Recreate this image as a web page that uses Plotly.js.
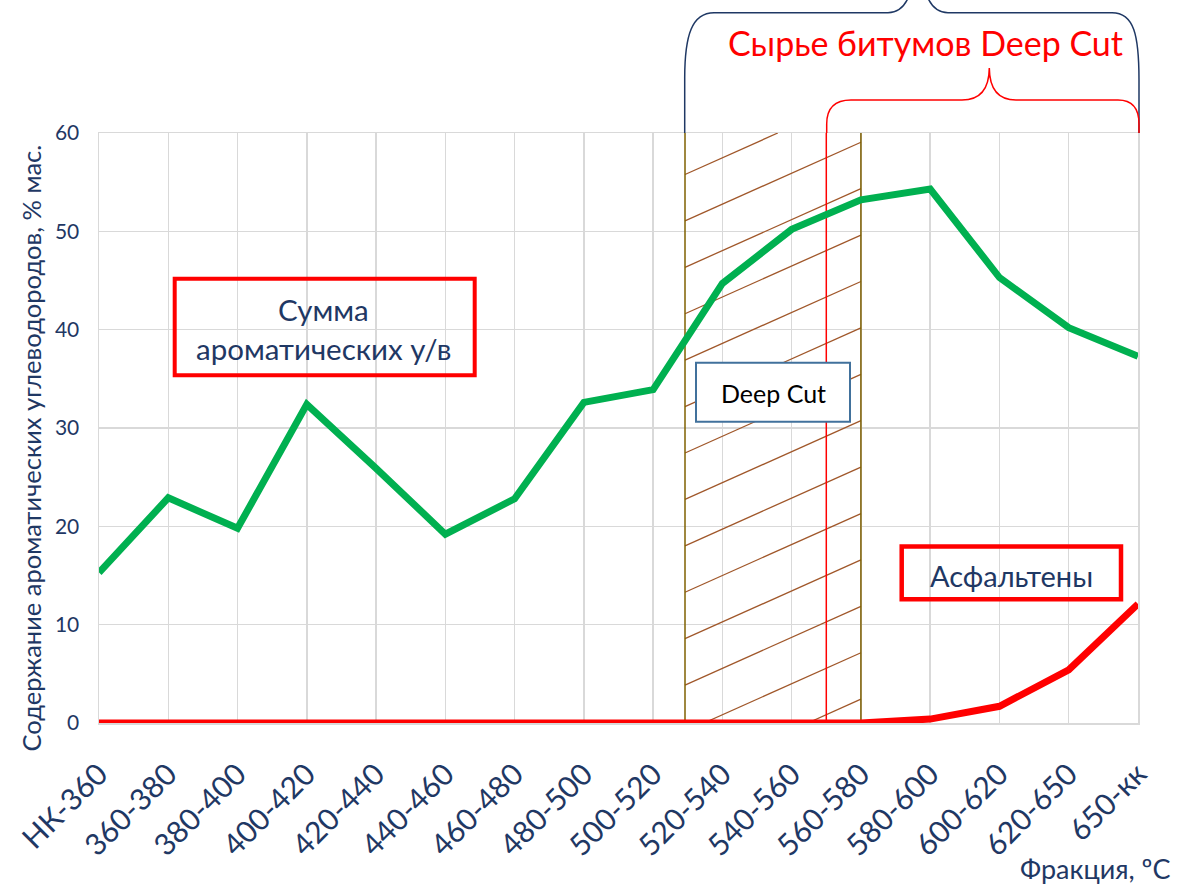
<!DOCTYPE html>
<html>
<head>
<meta charset="utf-8">
<script src="https://cdn.plot.ly/plotly-3.0.1.min.js"></script>
<style>html,body{margin:0;padding:0;background:#fff;}#chart{width:1178px;height:889px;}</style>
</head>
<body>
<div id="chart"></div>
<script>
// ---- data ----
const categories = ['НК-360','360-380','380-400','400-420','420-440','440-460','460-480','480-500',
  '500-520','520-540','540-560','560-580','580-600','600-620','620-650','650-кк'];
const aromatics = [15.3, 22.9, 19.8, 32.4, 25.9, 19.2, 22.8, 32.6, 33.9, 44.7, 50.2, 53.2, 54.3, 45.3, 40.2, 37.3];
const asphaltenes = [0, 0, 0, 0, 0, 0, 0, 0, 0, 0, 0, 0, 0.4, 1.7, 5.4, 12.1];
const yTicks = [0, 10, 20, 30, 40, 50, 60];

const yTitle = 'Содержание ароматических углеводородов, % мас.';
const xTitle = 'Фракция, ºС';
const bracketTitle = 'Сырье битумов Deep Cut';
const labelSum = ['Сумма', 'ароматических у/в'];
const labelAsph = 'Асфальтены';
const labelDeep = 'Deep Cut';

// ---- layout geometry ----
const W = 1178, H = 889;
const M = {l: 99, r: 40, t: 133, b: 166};
const PW = W - M.l - M.r, PH = H - M.t - M.b;
const px = x => (x - M.l) / PW;
const py = y => (H - M.b - y) / PH;

const NAVY = '#1F3864';
const FONT = 'Lato, "Open Sans", sans-serif';

// deep cut band (category index units)
const bandStart = 8.46, bandEnd = 11, cutLine = 10.5;

const shapes = [];
// hatch lines
const slope = 3.15, step = 4.72, base = 3.86;
for (let k = -3; k < 14; k++) {
  const y0 = base + k * step;
  if (y0 > 60) continue;
  let xa = bandStart, ya = y0;
  if (y0 < 0) { xa = bandStart + (-y0) / slope; ya = 0; }
  if (xa >= bandEnd) continue;
  let xb = bandEnd, yb = y0 + slope * (bandEnd - bandStart);
  if (yb > 60) { xb = bandStart + (60 - y0) / slope; yb = 60; }
  shapes.push({type: 'line', xref: 'x', yref: 'y', x0: xa, y0: ya, x1: xb, y1: yb,
    line: {color: '#A0572A', width: 1.3}, layer: 'between'});
}
[bandStart, bandEnd].forEach(xv => shapes.push({type: 'line', xref: 'x', yref: 'y',
  x0: xv, x1: xv, y0: 0, y1: 60, line: {color: '#7F6000', width: 1.5}, layer: 'between'}));
shapes.push({type: 'line', xref: 'x', yref: 'y', x0: cutLine, x1: cutLine, y0: -0.3, y1: 60,
  line: {color: '#FF0000', width: 1.5}, layer: 'between'});

// path helper in pixel coordinates -> paper
function path(cmds) {
  return cmds.map(c => {
    const [op, ...nums] = c;
    const out = [];
    for (let i = 0; i < nums.length; i += 2) out.push(px(nums[i]).toFixed(5) + ',' + py(nums[i + 1]).toFixed(5));
    return op + ' ' + out.join(' ');
  }).join(' ');
}
// blue brace
shapes.push({type: 'path', xref: 'paper', yref: 'paper', layer: 'above',
  path: path([['M', 684.7, 133], ['L', 684.7, 78], ['C', 684.7, 35, 692, 12.7, 714, 12.7], ['L', 888, 12.7],
    ['Q', 906, 12.7, 912, -14], ['M', 924, -14], ['Q', 930, 12.7, 948, 12.7], ['L', 1112, 12.7],
    ['C', 1134, 12.7, 1139, 35, 1139, 80], ['L', 1139, 133]]),
  line: {color: '#1F3864', width: 1.5}});
// red brace
shapes.push({type: 'path', xref: 'paper', yref: 'paper', layer: 'above',
  path: path([['M', 826.7, 133], ['L', 826.7, 124], ['Q', 826.7, 100, 851, 100], ['L', 962, 100],
    ['Q', 989, 100, 989.3, 68], ['Q', 989.6, 100, 1016, 100], ['L', 1118, 100],
    ['Q', 1139, 100, 1139, 124], ['L', 1139, 133]]),
  line: {color: '#FF0000', width: 1.5}});

// boxes
shapes.push({type: 'rect', xref: 'paper', yref: 'paper', layer: 'above',
  x0: px(174.7), x1: px(474.7), y0: py(375.3), y1: py(278.7), line: {color: '#FF0000', width: 4}});
shapes.push({type: 'rect', xref: 'paper', yref: 'paper', layer: 'above',
  x0: px(901.7), x1: px(1121), y0: py(599.3), y1: py(546.5), line: {color: '#FF0000', width: 4.5}});
shapes.push({type: 'rect', xref: 'paper', yref: 'paper', layer: 'above',
  x0: px(696), x1: px(850), y0: py(421.7), y1: py(362.7), fillcolor: '#FFFFFF', line: {color: '#41719C', width: 2}});

const ann = (text, x, y, size, color, extra) => Object.assign({
  text, xref: 'paper', yref: 'paper', x: px(x), y: py(y), showarrow: false,
  xanchor: 'center', yanchor: 'middle', font: {family: FONT, size, color}}, extra || {});

const annotations = [
  ann(yTitle, 30, 448.5, 25.5, NAVY, {textangle: -90}),
  ann(xTitle, 1173, 868, 27, NAVY, {xanchor: 'right'}),
  ann(bracketTitle, 925, 42, 34, '#FF0000'),
  ann(labelSum[0], 323.5, 309, 29.5, NAVY),
  ann(labelSum[1], 323.5, 348, 29.5, NAVY),
  ann(labelAsph, 1011.3, 575, 29, NAVY),
  ann(labelDeep, 773.3, 393, 25, '#000000'),
];

const traces = [
  {x: categories, y: aromatics, type: 'scatter', mode: 'lines', name: 'Сумма ароматических у/в',
   line: {color: '#00B050', width: 7}},
  {x: categories, y: asphaltenes, type: 'scatter', mode: 'lines', name: 'Асфальтены',
   line: {color: '#FF0000', width: 7}},
];

const layout = {
  width: W, height: H, margin: M, paper_bgcolor: '#FFFFFF', plot_bgcolor: '#FFFFFF',
  showlegend: false, font: {family: FONT, color: NAVY},
  xaxis: {type: 'category', categoryorder: 'array', categoryarray: categories, range: [0, categories.length - 1],
    tickangle: -45, tickfont: {family: FONT, size: 30, color: NAVY}, showgrid: true, gridcolor: '#D9D9D9',
    gridwidth: 1.5, showline: true, linecolor: '#D9D9D9', linewidth: 1.5, mirror: true, ticks: '',
    ticklabelstandoff: 20, zeroline: false, fixedrange: true},
  yaxis: {range: [0, 60], tickvals: yTicks, tickfont: {family: FONT, size: 21, color: NAVY}, showgrid: true,
    gridcolor: '#D9D9D9', gridwidth: 1.5, showline: true, linecolor: '#D9D9D9', linewidth: 1.5, mirror: true,
    ticks: '', ticklabelstandoff: 14, zeroline: false, fixedrange: true},
  shapes, annotations,
};

Plotly.newPlot('chart', traces, layout, {staticPlot: true, displayModeBar: false});
</script>
</body>
</html>
